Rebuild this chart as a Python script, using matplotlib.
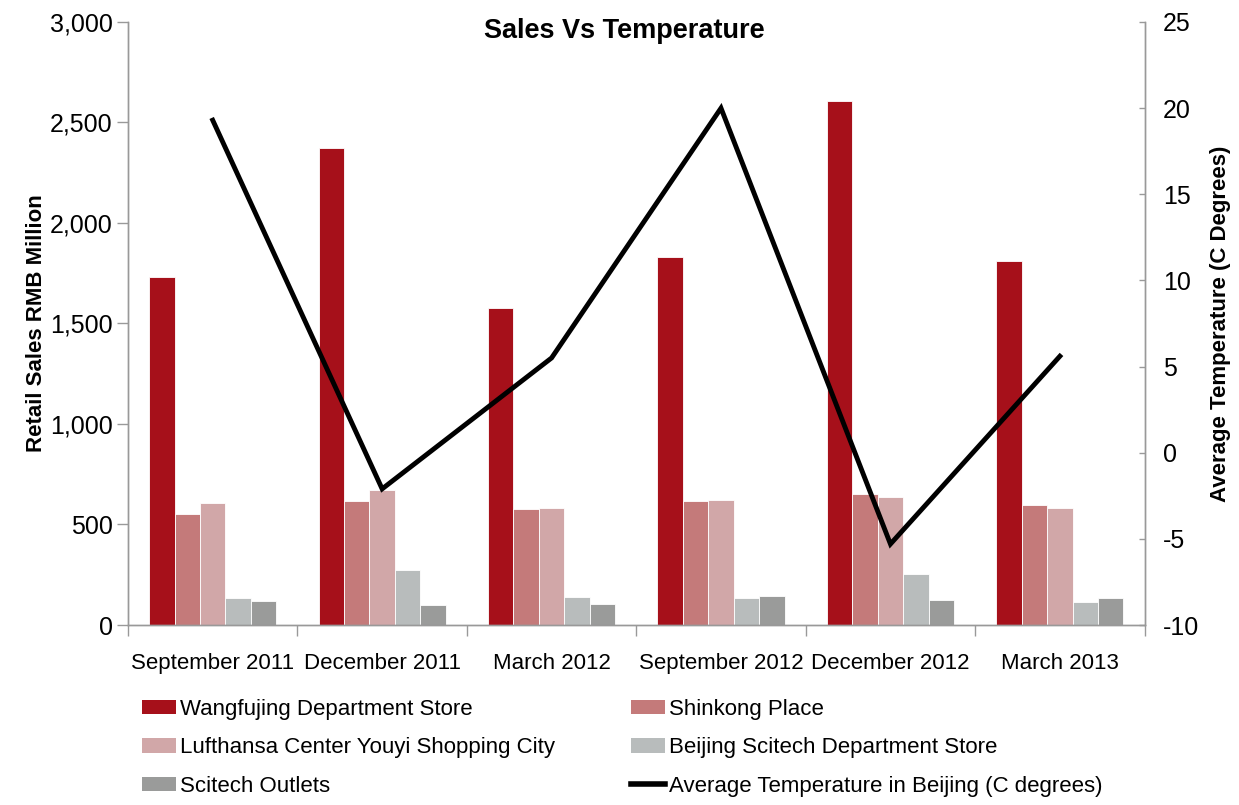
import matplotlib
matplotlib.use('Agg')
import matplotlib.pyplot as plt
from matplotlib.lines import Line2D
from matplotlib.patches import Patch
import numpy as np

# data
periods = ['September 2011', 'December 2011', 'March 2012',
           'September 2012', 'December 2012', 'March 2013']
wangfujing = [1730, 2375, 1575, 1830, 2605, 1810]
shinkong = [551, 615, 577, 615, 653, 597]
lufthansa = [608, 672, 584, 622, 637, 584]
scitech_store = [133, 272, 139, 133, 252, 113]
scitech_outlets = [119, 100, 106, 144, 126, 133]
temperature = [19.3, -2.1, 5.5, 20.0, -5.3, 5.6]

series_names = ['Wangfujing Department Store', 'Shinkong Place',
                'Lufthansa Center Youyi Shopping City',
                'Beijing Scitech Department Store', 'Scitech Outlets']
colors = ['#A6101A', '#C47A7A', '#D1A7A8', '#B8BCBC', '#9A9B9A']

font = 'Liberation Sans'

fig = plt.figure(figsize=(12.39, 8.05), dpi=100)
ax = fig.add_axes([0.1033, 0.2236, 0.8205, 0.7491])
ax2 = ax.twinx()

x = np.arange(len(periods))
bw = 0.15
series = [wangfujing, shinkong, lufthansa, scitech_store, scitech_outlets]
for i, vals in enumerate(series):
    ax.bar(x + (i - 2) * bw, vals, width=bw, color=colors[i],
           edgecolor='white', linewidth=0.6, zorder=2)

ax2.plot(x, temperature, color='black', linewidth=3.5, zorder=5,
         solid_joinstyle='miter')

ax.set_xlim(-0.5, len(periods) - 0.5)
ax.set_ylim(0, 3000)
ax2.set_ylim(-10, 25)
ax.set_yticks(np.arange(0, 3001, 500))
ax.set_yticklabels([f'{v:,}' for v in range(0, 3001, 500)],
                   fontsize=18, family=font)
ax2.set_yticks(np.arange(-10, 26, 5))
ax2.set_yticklabels([str(v) for v in range(-10, 26, 5)],
                    fontsize=18, family=font)

ax.set_xticks(x)
ax.set_xticklabels(periods, fontsize=16, family=font)
ax.tick_params(axis='x', which='major', length=0, pad=20)
ax.set_xticks(np.arange(-0.5, len(periods), 1), minor=True)
ax.tick_params(axis='x', which='minor', length=8, color='#999999', width=1)
ax.tick_params(axis='y', length=8, color='#999999', width=1, pad=3)
ax2.tick_params(axis='y', direction='in', length=4, color='#999999', width=1, pad=13)

for a in (ax, ax2):
    a.spines['top'].set_visible(False)
    for s in ('left', 'right', 'bottom'):
        a.spines[s].set_color('#999999')
        a.spines[s].set_linewidth(1)

ax.set_ylabel('Retail Sales RMB Million', fontsize=16, fontweight='bold',
              family=font, labelpad=2)
ax2.set_ylabel('Average Temperature (C Degrees)', fontsize=16,
               fontweight='bold', family=font, labelpad=8)
fig.text(0.504, 0.962, 'Sales Vs Temperature', fontsize=19.5,
         fontweight='bold', family=font, ha='center', va='center')

handles = [Patch(facecolor=c, edgecolor='none') for c in colors]
handles.append(Line2D([0], [0], color='black', linewidth=4))
labels = series_names + ['Average Temperature in Beijing (C degrees)']
# column-major order for 2 columns
order = [0, 2, 4, 1, 3, 5]
fig.legend([handles[i] for i in order], [labels[i] for i in order],
           loc='lower left', bbox_to_anchor=(0.0985, -0.0147), ncol=2,
           frameon=False, prop={'family': font, 'size': 16},
           handlelength=1.53, handleheight=0.63, handletextpad=0.18,
           columnspacing=3.4, labelspacing=0.79)

fig.savefig('out.png', dpi=100)
